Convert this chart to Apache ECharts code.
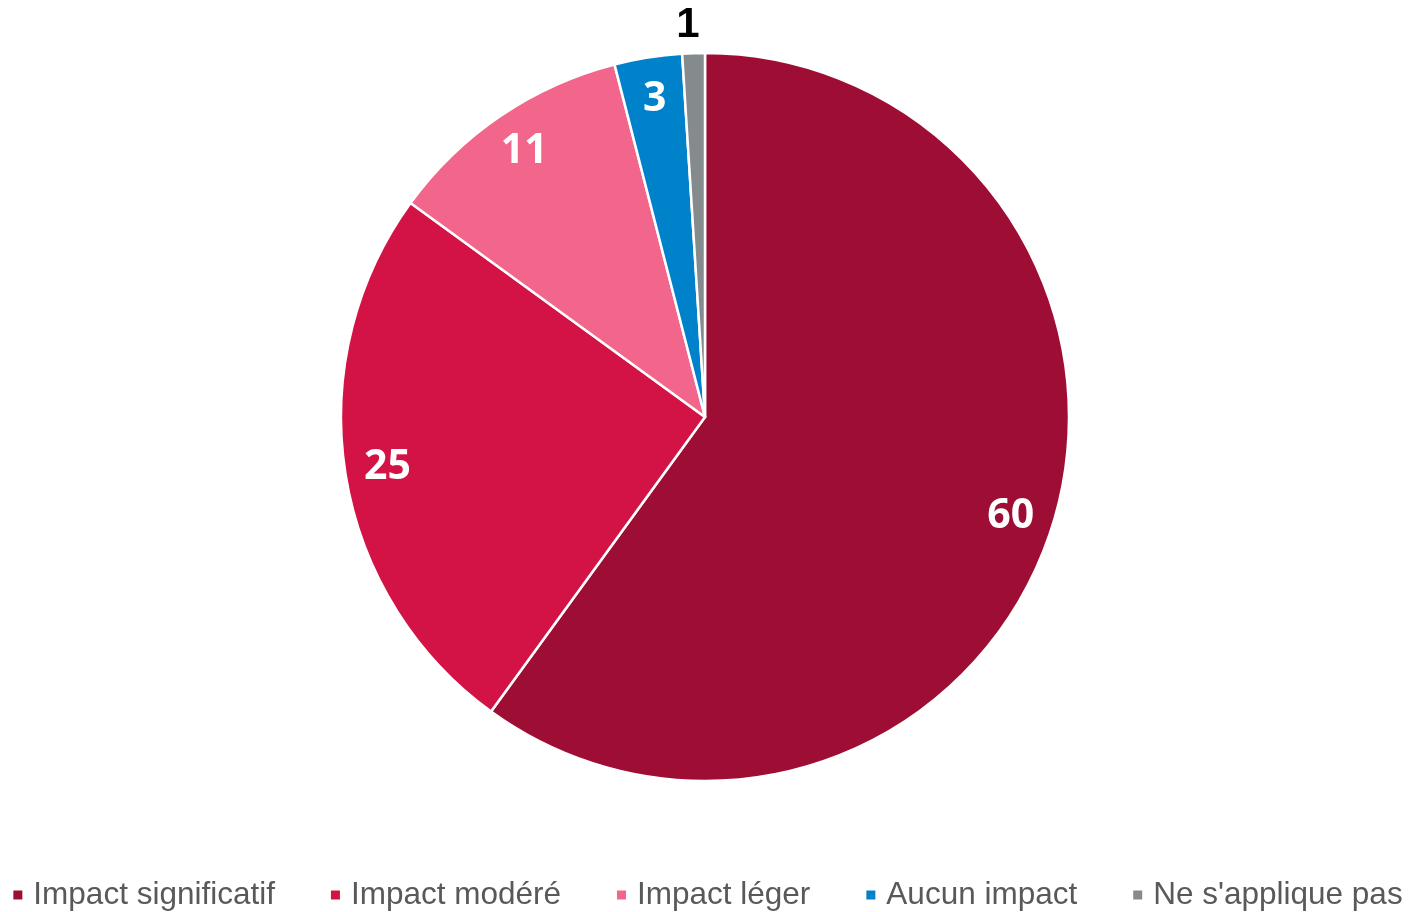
<!DOCTYPE html>
<html><head><meta charset="utf-8">
<script src="https://cdn.jsdelivr.net/npm/echarts@6/dist/echarts.min.js"></script>
<style>html,body{margin:0;padding:0;background:#fff}#c{width:1414px;height:912px}</style>
</head><body><div id="c"></div>
<script>
const categories = ['Impact significatif', 'Impact modéré', 'Impact léger', 'Aucun impact', "Ne s'applique pas"];
const values = [60, 25, 11, 3, 1];
const colors = ['#9E0E34', '#D31245', '#F2668B', '#0082CA', '#858A8C'];

const R = 364;
const center = [705, 417];
const chart = echarts.init(document.getElementById('c'));
const mainData = categories.map((n, i) => ({
  name: n, value: values[i],
  itemStyle: { color: colors[i] }
}));
const innerLabel = { show: true, position: 'inside', fontFamily: 'Open Sans', fontWeight: 'bold', fontSize: 41, color: '#fff', formatter: '{c}' };
const outerLabel = { show: true, position: 'outside', fontFamily: 'Liberation Sans', fontWeight: 'bold', fontSize: 42, color: '#000', formatter: '{c}', offset: [12, 2] };
const labelData = categories.map((n, i) => ({
  name: n, value: values[i],
  label: i === 4 ? outerLabel : innerLabel,
  labelLine: { show: false, length: 30, length2: 0 }
}));
chart.setOption({
  animation: false,
  legend: {
    bottom: -4, left: 'center',
    icon: 'rect', itemWidth: 11, itemHeight: 11, itemGap: 54,
    textStyle: { fontFamily: 'Liberation Sans', fontSize: 31.5, color: '#595959', padding: [0, 0, 0, 5] },
    data: categories
  },
  series: [
    {
      type: 'pie', name: 'main', radius: [0, R], center: center,
      startAngle: 90, clockwise: true,
      itemStyle: { borderColor: '#fff', borderWidth: 2.5 },
      label: { show: false },
      labelLine: { show: false },
      emphasis: { disabled: true },
      data: mainData
    },
    {
      type: 'pie', name: 'labels', radius: [R * 0.75, R], center: center,
      startAngle: 90, clockwise: true, silent: true, legendHoverLink: false,
      avoidLabelOverlap: false,
      itemStyle: { color: 'rgba(0,0,0,0)', borderWidth: 0 },
      label: { show: true },
      labelLine: { show: false, length: 30, length2: 0 },
      emphasis: { disabled: true },
      data: labelData
    }
  ]
});
</script></body></html>
